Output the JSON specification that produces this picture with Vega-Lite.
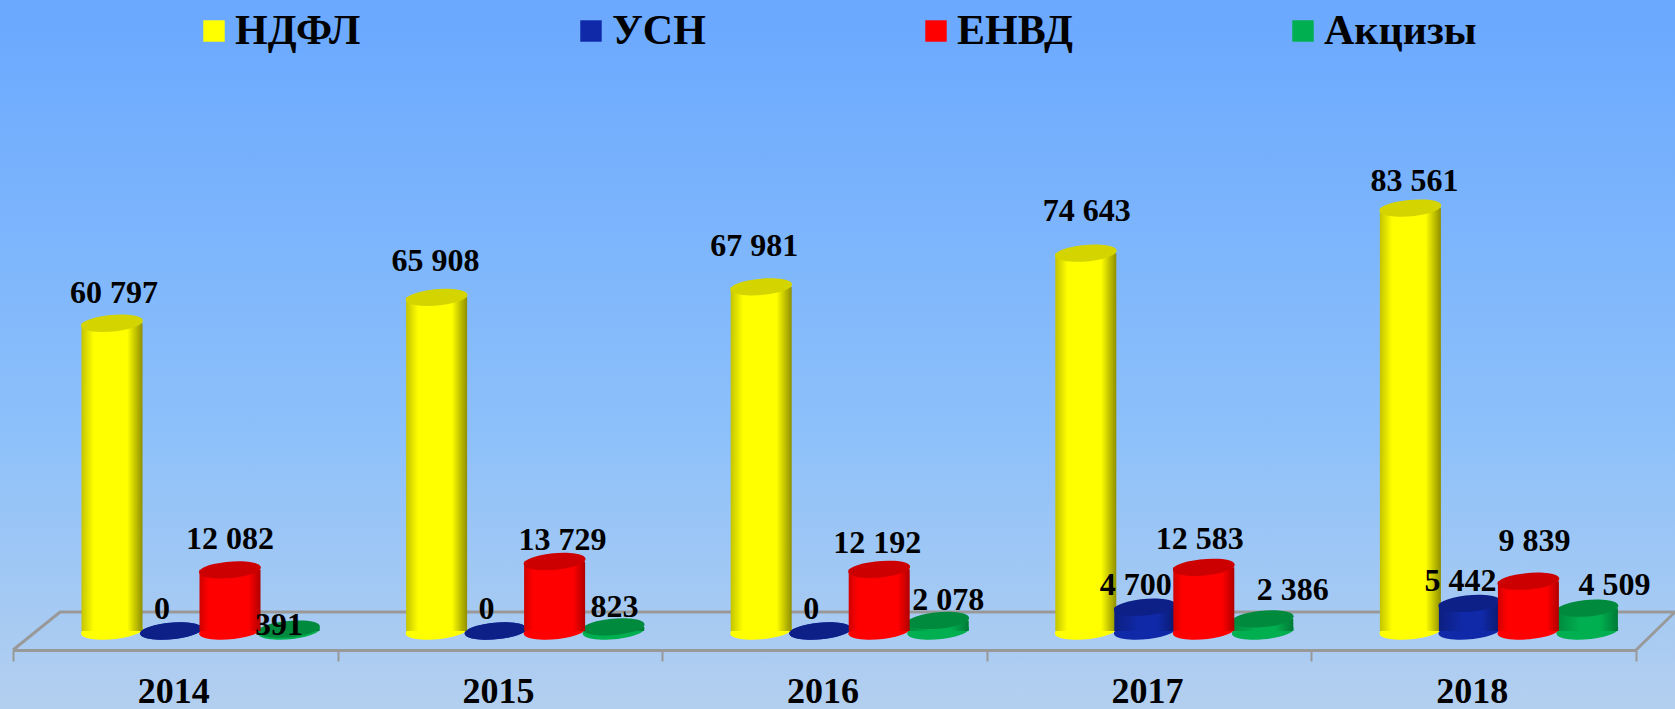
{"$schema":"https://vega.github.io/schema/vega-lite/v6.json","width":1675,"height":709,"padding":0,"autosize":"none","background":"#8fbdf8",
"config":{"view":{"stroke":null,"fill":{"gradient":"linear","x1":0,"y1":0,"x2":0,"y2":1,"stops":[{"offset":0,"color":"#6aa8ff"},{"offset":0.6,"color":"#8cc0fa"},{"offset":1,"color":"#b3cfef"}]}},"text":{"font":"Liberation Serif","fontSize":32,"fontWeight":"bold","color":"#000"}},
"datasets":{"d":[
{"year":"2014","series":"НДФЛ","value":60797,"label":"60 797"},{"year":"2014","series":"УСН","value":0,"label":"0"},{"year":"2014","series":"ЕНВД","value":12082,"label":"12 082"},{"year":"2014","series":"Акцизы","value":391,"label":"391"},
{"year":"2015","series":"НДФЛ","value":65908,"label":"65 908"},{"year":"2015","series":"УСН","value":0,"label":"0"},{"year":"2015","series":"ЕНВД","value":13729,"label":"13 729"},{"year":"2015","series":"Акцизы","value":823,"label":"823"},
{"year":"2016","series":"НДФЛ","value":67981,"label":"67 981"},{"year":"2016","series":"УСН","value":0,"label":"0"},{"year":"2016","series":"ЕНВД","value":12192,"label":"12 192"},{"year":"2016","series":"Акцизы","value":2078,"label":"2 078"},
{"year":"2017","series":"НДФЛ","value":74643,"label":"74 643"},{"year":"2017","series":"УСН","value":4700,"label":"4 700"},{"year":"2017","series":"ЕНВД","value":12583,"label":"12 583"},{"year":"2017","series":"Акцизы","value":2386,"label":"2 386"},
{"year":"2018","series":"НДФЛ","value":83561,"label":"83 561"},{"year":"2018","series":"УСН","value":5442,"label":"5 442"},{"year":"2018","series":"ЕНВД","value":9839,"label":"9 839"},{"year":"2018","series":"Акцизы","value":4509,"label":"4 509"}],
"floor":[{"seg":"a","u":0,"v":-3753},{"seg":"a","u":0.145,"v":3753},{"seg":"a","u":5.12,"v":3753},{"seg":"b","u":5,"v":-3753},{"seg":"b","u":5.12,"v":3753}]},
"encoding":{
"x":{"field":"year","type":"nominal","scale":{"domain":["2014","2015","2016","2017","2018"],"range":[13,1636],"paddingInner":0,"paddingOuter":0},"axis":null},
"xOffset":{"field":"series","type":"nominal","sort":null,"scale":{"domain":["НДФЛ","УСН","ЕНВД","Акцизы"],"range":[69.5,305.5],"paddingInner":0,"paddingOuter":0}},
"y":{"field":"value","type":"quantitative","stack":null,"scale":{"domain":[-15409,124654],"nice":false,"zero":false},"axis":null}},
"layer":[
{"data":{"name":"floor"},"mark":{"type":"line","color":"#999","strokeWidth":3,"clip":false},"encoding":{"x":{"field":"u","type":"quantitative","scale":{"domain":[-0.04,5.12],"nice":false,"zero":false},"axis":null},"xOffset":null,"y":{"field":"v","type":"quantitative"},"detail":{"field":"seg"}}},
{"data":{"name":"d"},"mark":{"type":"point","filled":true,"opacity":1,"size":3844,"shape":"M-0.996,0.087A1,0.26,-5,1,1,0.996,-0.087A1,0.26,-5,1,1,-0.996,0.087Z"},"encoding":{
"x":{"field":"year","type":"nominal","scale":{"domain":["2014","2015","2016","2017","2018"],"range":[13,1636],"paddingInner":0,"paddingOuter":0},"axis":{"title":null,"orient":"bottom","offset":-59,"labelAngle":0,"labelFont":"Liberation Serif","labelFontSize":36,"labelFontWeight":"bold","labelColor":"#000","labelPadding":13,"labelOffset":-2,"tickBand":"extent","tickColor":"#999","tickWidth":2,"tickSize":11,"domainColor":"#999","domainWidth":3,"grid":false}},
"y":{"datum":0},"color":{"field":"series","type":"nominal","sort":null,"scale":{"domain":["НДФЛ","УСН","ЕНВД","Акцизы"],"range":["#ffff00","#1029a8","#ff0000","#00b050"]},"legend":{"title":null,"orient":"none","legendX":193,"legendY":10,"direction":"horizontal","columns":4,"symbolType":"square","symbolSize":460,"symbolStrokeWidth":0,"labelFont":"Liberation Serif","labelFontSize":42,"labelFontWeight":"bold","labelColor":"#000","labelLimit":300,"labelOffset":0,"columnPadding":209}}}},
{"data":{"name":"d"},"transform":[{"filter":"datum.series=='НДФЛ'"}],"mark":{"type":"bar","width":61,"fill":{"gradient":"linear","x1":0,"y1":0,"x2":1,"y2":0,"stops":[{"offset":0,"color":"#c4c400"},{"offset":0.2,"color":"#ffff00"},{"offset":0.75,"color":"#ffff00"},{"offset":1,"color":"#8f8f00"}]}}},
{"data":{"name":"d"},"transform":[{"filter":"datum.series=='НДФЛ'"}],"mark":{"type":"point","filled":true,"opacity":1,"size":3844,"color":"#d4d400","shape":"M-0.996,0.087A1,0.26,-5,1,1,0.996,-0.087A1,0.26,-5,1,1,-0.996,0.087Z"}},
{"data":{"name":"d"},"transform":[{"filter":"datum.series=='УСН'"}],"mark":{"type":"bar","width":61,"fill":{"gradient":"linear","x1":0,"y1":0,"x2":1,"y2":0,"stops":[{"offset":0,"color":"#0c1f80"},{"offset":0.4,"color":"#1029a8"},{"offset":0.7,"color":"#1029a8"},{"offset":1,"color":"#0a1a70"}]}}},
{"data":{"name":"d"},"transform":[{"filter":"datum.series=='УСН'"}],"mark":{"type":"point","filled":true,"opacity":1,"size":3844,"color":"#0d2088","shape":"M-0.996,0.087A1,0.26,-5,1,1,0.996,-0.087A1,0.26,-5,1,1,-0.996,0.087Z"}},
{"data":{"name":"d"},"transform":[{"filter":"datum.series=='Акцизы'"}],"mark":{"type":"bar","width":61,"fill":{"gradient":"linear","x1":0,"y1":0,"x2":1,"y2":0,"stops":[{"offset":0,"color":"#008a3e"},{"offset":0.4,"color":"#00b050"},{"offset":0.7,"color":"#00b050"},{"offset":1,"color":"#007a36"}]}}},
{"data":{"name":"d"},"transform":[{"filter":"datum.series=='Акцизы'"}],"mark":{"type":"point","filled":true,"opacity":1,"size":3844,"color":"#008a3e","shape":"M-0.996,0.087A1,0.26,-5,1,1,0.996,-0.087A1,0.26,-5,1,1,-0.996,0.087Z"}},
{"data":{"name":"d"},"transform":[{"filter":"datum.series=='ЕНВД'"}],"mark":{"type":"bar","width":61,"fill":{"gradient":"linear","x1":0,"y1":0,"x2":1,"y2":0,"stops":[{"offset":0,"color":"#d00000"},{"offset":0.15,"color":"#ff0000"},{"offset":0.8,"color":"#ff0000"},{"offset":1,"color":"#b00000"}]}}},
{"data":{"name":"d"},"transform":[{"filter":"datum.series=='ЕНВД'"}],"mark":{"type":"point","filled":true,"opacity":1,"size":3844,"color":"#cc0000","shape":"M-0.996,0.087A1,0.26,-5,1,1,0.996,-0.087A1,0.26,-5,1,1,-0.996,0.087Z"}},
{"data":{"name":"d"},"transform":[{"filter":"datum.series=='УСН'"}],"mark":{"type":"text","dy":-22,"dx":-9},"encoding":{"text":{"field":"label"}}},
{"data":{"name":"d"},"transform":[{"filter":"datum.series=='НДФЛ'&&datum.year=='2014'"}],"mark":{"type":"text","dy":-30,"dx":2},"encoding":{"text":{"field":"label"}}},
{"data":{"name":"d"},"transform":[{"filter":"datum.series=='НДФЛ'&&datum.year=='2015'"}],"mark":{"type":"text","dy":-36,"dx":-1},"encoding":{"text":{"field":"label"}}},
{"data":{"name":"d"},"transform":[{"filter":"datum.series=='НДФЛ'&&datum.year=='2016'"}],"mark":{"type":"text","dy":-41,"dx":-7},"encoding":{"text":{"field":"label"}}},
{"data":{"name":"d"},"transform":[{"filter":"datum.series=='НДФЛ'&&datum.year=='2017'"}],"mark":{"type":"text","dy":-42,"dx":1},"encoding":{"text":{"field":"label"}}},
{"data":{"name":"d"},"transform":[{"filter":"datum.series=='НДФЛ'&&datum.year=='2018'"}],"mark":{"type":"text","dy":-27,"dx":4},"encoding":{"text":{"field":"label"}}},
{"data":{"name":"d"},"transform":[{"filter":"datum.series=='ЕНВД'&&datum.year=='2014'"}],"mark":{"type":"text","dy":-31,"dx":0},"encoding":{"text":{"field":"label"}}},
{"data":{"name":"d"},"transform":[{"filter":"datum.series=='ЕНВД'&&datum.year=='2015'"}],"mark":{"type":"text","dy":-22,"dx":8},"encoding":{"text":{"field":"label"}}},
{"data":{"name":"d"},"transform":[{"filter":"datum.series=='ЕНВД'&&datum.year=='2016'"}],"mark":{"type":"text","dy":-26,"dx":-2},"encoding":{"text":{"field":"label"}}},
{"data":{"name":"d"},"transform":[{"filter":"datum.series=='ЕНВД'&&datum.year=='2017'"}],"mark":{"type":"text","dy":-28,"dx":-4},"encoding":{"text":{"field":"label"}}},
{"data":{"name":"d"},"transform":[{"filter":"datum.series=='ЕНВД'&&datum.year=='2018'"}],"mark":{"type":"text","dy":-40,"dx":6},"encoding":{"text":{"field":"label"}}},
{"data":{"name":"d"},"transform":[{"filter":"datum.series=='Акцизы'&&datum.year=='2014'"}],"mark":{"type":"text","dy":-4,"dx":-10},"encoding":{"text":{"field":"label"}}},
{"data":{"name":"d"},"transform":[{"filter":"datum.series=='Акцизы'&&datum.year=='2015'"}],"mark":{"type":"text","dy":-20,"dx":1},"encoding":{"text":{"field":"label"}}},
{"data":{"name":"d"},"transform":[{"filter":"datum.series=='Акцизы'&&datum.year=='2016'"}],"mark":{"type":"text","dy":-20,"dx":10},"encoding":{"text":{"field":"label"}}},
{"data":{"name":"d"},"transform":[{"filter":"datum.series=='Акцизы'&&datum.year=='2017'"}],"mark":{"type":"text","dy":-29,"dx":30},"encoding":{"text":{"field":"label"}}},
{"data":{"name":"d"},"transform":[{"filter":"datum.series=='Акцизы'&&datum.year=='2018'"}],"mark":{"type":"text","dy":-23,"dx":27},"encoding":{"text":{"field":"label"}}}
],
"resolve":{"scale":{"x":"independent"}}}
